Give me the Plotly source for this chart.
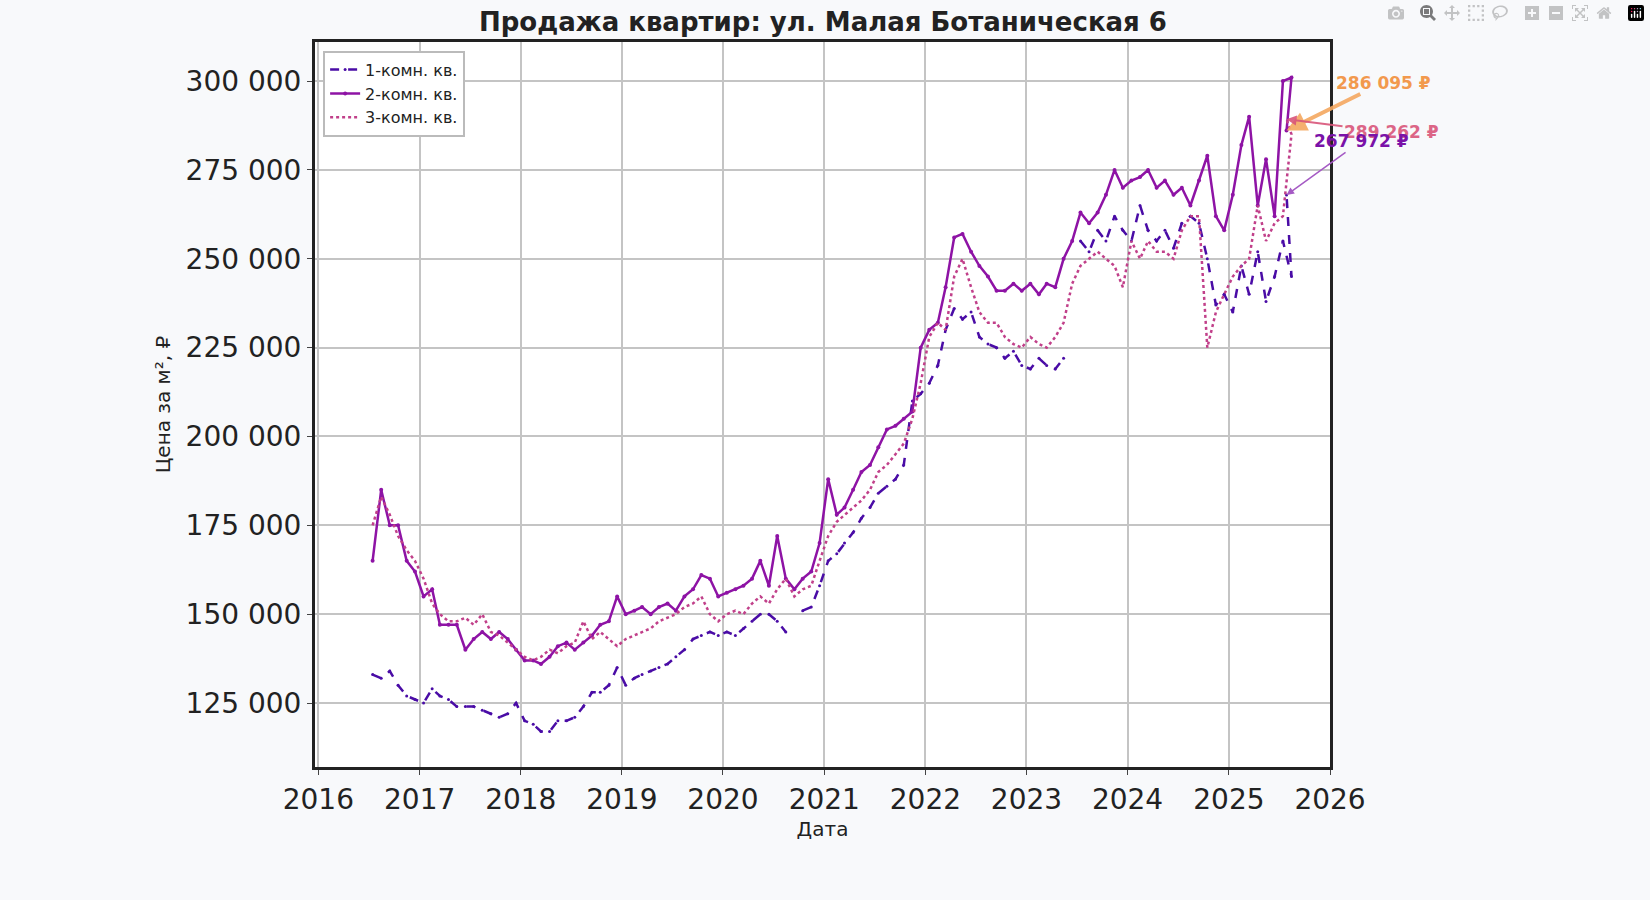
import pandas as pd
import plotly.graph_objects as go

# monthly points Jun 2016 .. Jul 2025, plus last observation
dates = list(pd.date_range("2016-06-15", periods=110, freq="MS") + pd.Timedelta(days=14)) + [pd.Timestamp("2025-07-28")]

room1 = [133000, 132000, 134000, 130000, 127000, 126000, 125000,
         129000, 127000, 126000, 124000, 124000, 124000, 123000, 122000, 121000, 122000, 125000, 120000,
         119000, 117000, 117000, 120000, 120000, 121000, 124000, 128000, 128000, 130000, 135000, 130000,
         132000, 133000, 134000, 135000, 136000, 138000, 140000, 143000, 144000, 145000, 144000, 145000,
         144000, 146000, 148000, 150000, 150000, 148000, 145000, None, 151000, 152000, 158000, 165000,
         167000, 170000, 173000, 177000, 180000, 184000, 186000, 188000, 192000, 210000, 212000, 215000,
         220000, 230000, 236000, 233000, 235000, 228000, 226000, 225000, 222000, 224000, 220000, 219000,
         222000, 220000, 219000, 222000, None, 255000, 252000, 258000, 255000, 262000, 258000, 255000,
         265000, 258000, 255000, 258000, 253000, 260000, 262000, 260000, 250000, 237000, 240000, 235000,
         248000, 240000, 252000, 238000, 245000, 255000, 245000,
         267972]

room2 = [165000, 185000, 175000, 175000, 165000, 162000, 155000,
         157000, 147000, 147000, 147000, 140000, 143000, 145000, 143000, 145000, 143000, 140000, 137000,
         137000, 136000, 138000, 141000, 142000, 140000, 142000, 144000, 147000, 148000, 155000, 150000,
         151000, 152000, 150000, 152000, 153000, 151000, 155000, 157000, 161000, 160000, 155000, 156000,
         157000, 158000, 160000, 165000, 158000, 172000, 160000, 157000, 160000, 162000, 170000, 188000,
         178000, 180000, 185000, 190000, 192000, 197000, 202000, 203000, 205000, 207000, 225000, 230000,
         232000, 242000, 256000, 257000, 252000, 248000, 245000, 241000, 241000, 243000, 241000, 243000,
         240000, 243000, 242000, 250000, 255000, 263000, 260000, 263000, 268000, 275000, 270000, 272000,
         273000, 275000, 270000, 272000, 268000, 270000, 265000, 272000, 279000, 262000, 258000, 268000,
         282000, 290000, 265000, 278000, 262000, 300000, 301000,
         286095]

room3 = [175000, 183000, 178000, 172000, 168000, 165000, 160000,
         153000, 150000, 148000, 148000, 149000, 147000, 150000, 145000, 144000, 142000, 140000, 138000,
         137000, 138000, 140000, 139000, 141000, 142000, 148000, 143000, 145000, 143000, 141000, 143000,
         144000, 145000, 146000, 148000, 149000, 150000, 152000, 153000, 155000, 150000, 148000, 150000,
         151000, 150000, 153000, 155000, 153000, 157000, 160000, 155000, 157000, 158000, 165000, 172000,
         176000, 178000, 180000, 182000, 185000, 190000, 192000, 195000, 198000, 205000, 215000, 228000,
         232000, 230000, 245000, 250000, 242000, 235000, 232000, 232000, 228000, 226000, 225000, 228000,
         226000, 225000, 228000, 232000, 243000, 248000, 250000, 252000, 250000, 248000, 242000, 255000,
         250000, 255000, 252000, 252000, 250000, 258000, 262000, 262000, 225000, 235000, 240000, 245000,
         248000, 250000, 265000, 255000, 260000, 262000, 285000,
         289262]

names = ["1-комн. кв.", "2-комн. кв.", "3-комн. кв."]
colors = ["#4a0ca6", "#8e13a5", "#c1408a"]

fig = go.Figure()
fig.add_trace(go.Scatter(x=dates, y=room1, name=names[0], mode="lines+markers",
                         line=dict(color=colors[0], width=2.5, dash="dash"), marker=dict(size=3),
                         connectgaps=False))
fig.add_trace(go.Scatter(x=dates, y=room2, name=names[1], mode="lines+markers",
                         line=dict(color=colors[1], width=2.5), marker=dict(size=4)))
fig.add_trace(go.Scatter(x=dates, y=room3, name=names[2], mode="lines",
                         line=dict(color=colors[2], width=2.5, dash="dot")))


def fmt(v):
    return f"<b>{v:,} ₽</b>".replace(",", " ")


# last-value labels
last = pd.Timestamp("2025-07-28")
fig.add_annotation(x=last, y=room2[-1], text=fmt(room2[-1]), ax=97, ay=-48,
                   font=dict(color="#f28f3b", size=17), arrowcolor="#f5a860",
                   arrowwidth=4, arrowhead=2, opacity=0.9)
fig.add_annotation(x=last, y=room3[-1], text=fmt(room3[-1]), ax=105, ay=13,
                   font=dict(color="#d9557a", size=17), arrowcolor="#d9557a",
                   arrowwidth=2, arrowhead=2, opacity=0.9)
fig.add_annotation(x=last, y=room1[-1], text=fmt(room1[-1]), ax=75, ay=-54,
                   font=dict(color="#7a12a8", size=17), arrowcolor="#a55ac4",
                   arrowwidth=1.5, arrowhead=2)
fig.add_annotation(xref="paper", yref="paper", x=0.5, y=1.051, showarrow=False,
                   text="<b>Продажа квартир: ул. Малая Ботаническая 6</b>",
                   font=dict(size=26, color="#222"))

fig.update_layout(
    width=1650, height=900,
    margin=dict(l=315, r=320, t=42, b=133),
    paper_bgcolor="#f8f9fb", plot_bgcolor="white",
    font=dict(family="DejaVu Sans", color="#222"),
    separators=". ",
    legend=dict(x=0.008, y=0.988, xanchor="left", yanchor="top", bgcolor="white",
                bordercolor="#bbb", borderwidth=2, font=dict(size=16)),
)
fig.update_xaxes(range=["2015-12-20", "2026-01-01"], dtick="M12", tickformat="%Y",
                 tickfont=dict(size=28), showgrid=True, gridcolor="#c4c4c4", gridwidth=2,
                 showline=True, linecolor="#222", linewidth=3, mirror=True, ticks="outside",
                 ticklen=5, title=dict(text="Дата", font=dict(size=20), standoff=8))
fig.update_yaxes(range=[107000, 311000], dtick=25000, tickformat=",d", tickfont=dict(size=28),
                 showgrid=True, gridcolor="#c4c4c4", gridwidth=2,
                 showline=True, linecolor="#222", linewidth=3, mirror=True, ticks="outside",
                 ticklen=5, title=dict(text="Цена за м², ₽", font=dict(size=20), standoff=10))

fig.write_html("out.html")

# drop the default body margin so the figure fills the window exactly
with open("out.html", encoding="utf-8") as f:
    page = f.read()
page = page.replace("<body>", '<body style="margin:0;overflow:hidden">', 1)
with open("out.html", "w", encoding="utf-8") as f:
    f.write(page)
